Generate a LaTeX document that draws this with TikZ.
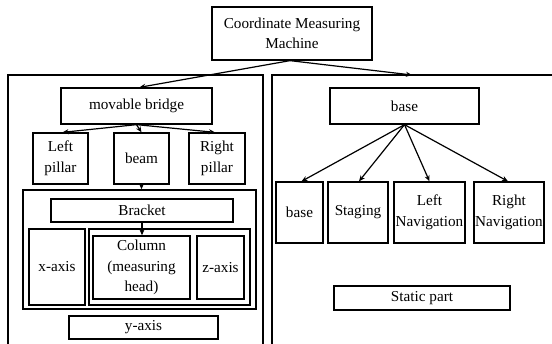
\documentclass[tikz,border=0pt]{standalone}
\usepackage{fontspec}
\setmainfont{Liberation Serif}
\usetikzlibrary{arrows.meta}
\begin{document}
\begin{tikzpicture}[x=1pt,y=-1pt,
  box/.style={draw,line width=1.3pt,inner sep=0pt,align=center,
    font=\fontsize{15.2}{20.5}\selectfont},
  panel/.style={draw,line width=1.3pt,inner sep=0pt},
  arr/.style={line width=1.2pt,-{Stealth[length=6pt,width=5pt]}},
  ln/.style={line width=1.2pt}]
\useasboundingbox (0,0) rectangle (552,344);
\clip (0,0) rectangle (552,344);
% panels
\node[panel,minimum width=255pt,minimum height=285pt] (leftpanel) at (135.5,217.5) {};
\node[panel,minimum width=296pt,minimum height=285pt] (rightpanel) at (420,217.5) {};
\coordinate (rpin) at (412,75);
% top
\node[box,minimum width=160pt,minimum height=53pt] (cmm) at (292,33.5) {Coordinate Measuring\\Machine};
% left side
\node[box,minimum width=151pt,minimum height=36pt] (mb) at (136.5,106) {movable bridge};
\node[box,minimum width=55pt,minimum height=51pt] (lp) at (60.5,158.5) {Left\\pillar};
\node[box,minimum width=55pt,minimum height=51pt] (beam) at (141.5,158.5) {beam};
\node[box,minimum width=56pt,minimum height=51pt] (rpil) at (217,158.5) {Right\\pillar};
\node[panel,minimum width=233pt,minimum height=119pt] (cont1) at (139.5,249.5) {};
\node[box,minimum width=182pt,minimum height=23pt] (bracket) at (142,210.5) {Bracket};
\node[box,minimum width=56pt,minimum height=76pt] (xaxis) at (57,267) {x-axis};
\node[panel,minimum width=161pt,minimum height=76pt] (cont2) at (169.5,267) {};
\node[box,minimum width=97pt,minimum height=63pt] (column) at (141.5,267.5) {Column\\(measuring\\head)};
\node[box,minimum width=47pt,minimum height=63pt] (zaxis) at (220.5,267.5) {z-axis};
\node[box,minimum width=149pt,minimum height=23pt] (yaxis) at (143.5,327.5) {y-axis};
% right side
\node[box,minimum width=149pt,minimum height=36pt] (base) at (404.5,106) {base};
\node[box,minimum width=47pt,minimum height=61pt] (base2) at (299.5,212.5) {base};
\node[box,minimum width=60pt,minimum height=61pt] (staging) at (358,212.5) {Staging};
\node[box,minimum width=71pt,minimum height=61pt] (lnav) at (429.5,212.5) {Left\\Navigation};
\node[box,minimum width=70pt,minimum height=61pt] (rnav) at (509,212.5) {Right\\Navigation};
\node[box,minimum width=176pt,minimum height=24pt] (static) at (422,298) {Static part};
% connectors
\coordinate (cmmout) at ([xshift=-2pt]cmm.south);
\draw[arr] (cmmout) -- ([xshift=3pt]mb.north);
\draw[arr] (cmmout) -- (rpin);
\draw[arr] (mb.south) -- ([xshift=2pt]lp.north);
\draw[arr] (mb.south) -- (beam.north);
\draw[arr] (mb.south) -- ([xshift=-2pt]rpil.north);
\draw[arr] (beam.south) -- (beam.south |- cont1.north);
\draw[arr] (bracket.south) -- (bracket.south |- column.north);
\draw[arr] (base.south) -- ([xshift=2pt]base2.north);
\draw[arr] (base.south) -- ([xshift=1pt]staging.north);
\draw[arr] (base.south) -- (lnav.north);
\draw[arr] (base.south) -- ([xshift=-1pt]rnav.north);
\end{tikzpicture}
\end{document}
